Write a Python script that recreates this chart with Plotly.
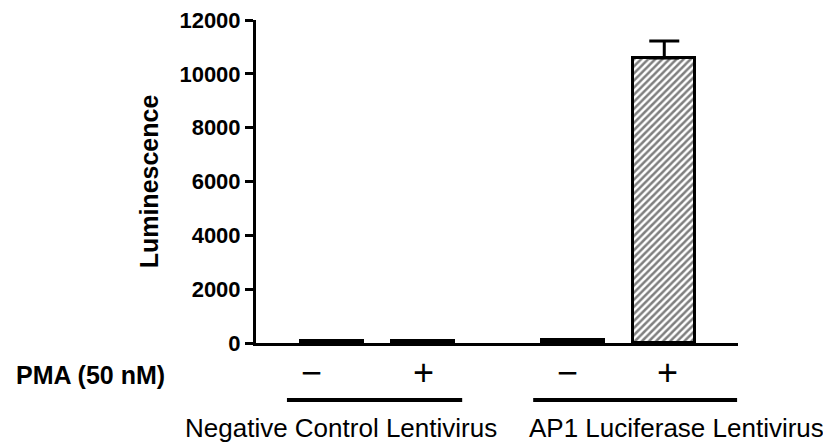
import plotly.graph_objects as go

# Data
bar_pos = [0, 1, 2.65, 3.65]
values = [60, 60, 100, 10590]
err_plus = [0, 0, 0, 630]
pma_labels = ["−", "+", "−", "+"]
pma_label_pos = [-0.22, 1.0, 2.59, 3.68]
groups = ["Negative Control Lentivirus", "AP1 Luciferase Lentivirus"]
group_span = [(-0.495, 1.43), (2.21, 4.45)]
group_label_pos = [0.10, 3.78]
y_ticks = [0, 2000, 4000, 6000, 8000, 10000, 12000]

FONT = "Liberation Sans, Arial, sans-serif"

fig = go.Figure()
fig.add_trace(go.Bar(
    x=bar_pos, y=values, width=0.68,
    marker=dict(color="white", line=dict(color="black", width=3),
                pattern=dict(shape=["", "", "", "/"], fgcolor="black", bgcolor="white",
                             size=5, solidity=0.5)),
    error_y=dict(type="data", symmetric=False, array=err_plus, arrayminus=[0] * 4,
                 color="black", thickness=3, width=15, visible=True),
    showlegend=False,
))

fig.update_layout(
    width=823, height=434,
    margin=dict(l=248, r=93, t=12, b=99, autoexpand=False),
    plot_bgcolor="white", paper_bgcolor="white",
    font=dict(family=FONT, color="black"),
    bargap=0,
)
fig.update_xaxes(range=[-0.835, 4.46], showgrid=False, zeroline=False, automargin=False,
                 showline=True, linecolor="black", linewidth=3, showticklabels=False,
                 ticks="", fixedrange=True)
fig.update_yaxes(range=[0, 12000], tickvals=y_ticks, ticktext=[str(v) for v in y_ticks],
                 showgrid=False, zeroline=False, showline=True, linecolor="black", linewidth=3,
                 ticks="outside", ticklen=8, tickwidth=3, tickcolor="black",
                 ticklabeloverflow="allow", automargin=False,
                 tickfont=dict(size=22, family=FONT, weight="bold"),
                 title=dict(text="<b>Luminescence</b>", font=dict(size=25, family=FONT), standoff=14))

for xp, lab in zip(pma_label_pos, pma_labels):
    fig.add_annotation(x=xp, y=-0.092, xref="x", yref="paper", text=lab, showarrow=False,
                       font=dict(size=36, family=FONT), yanchor="middle")
fig.add_annotation(x=-0.1846, y=-0.098, xref="paper", yref="paper", text="<b>PMA (50 nM)</b>",
                   showarrow=False, font=dict(size=25, family=FONT), xanchor="right", yanchor="middle")

for g, (x0, x1), xc in zip(groups, group_span, group_label_pos):
    fig.add_shape(type="line", x0=x0, x1=x1, y0=-0.1765, y1=-0.1765, xref="x", yref="paper",
                  line=dict(color="black", width=4))
    fig.add_annotation(x=xc, y=-0.264, xref="x", yref="paper", text=g,
                       showarrow=False, font=dict(size=26, family=FONT), yanchor="middle")

fig.write_html("out.html")
